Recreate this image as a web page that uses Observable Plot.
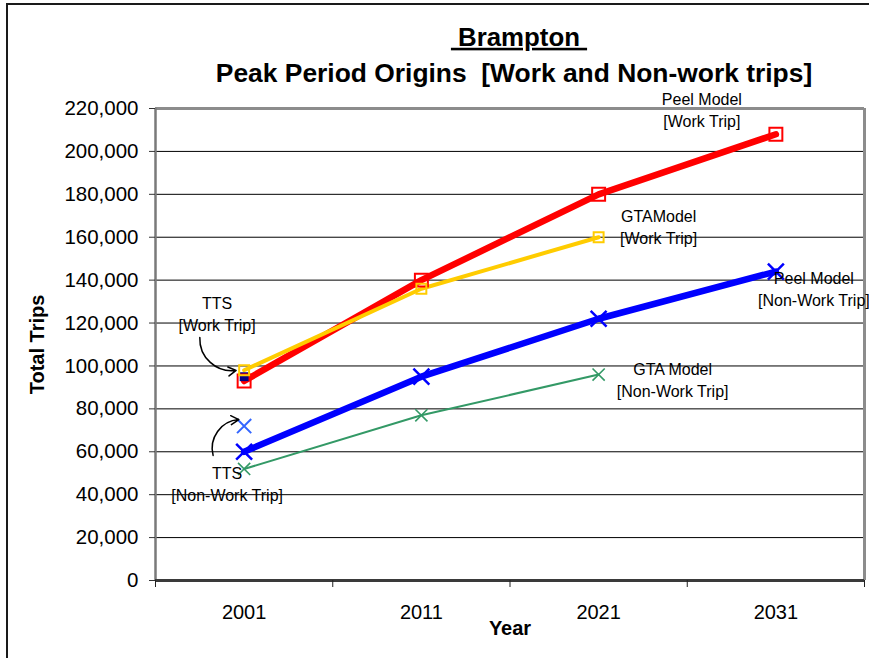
<!DOCTYPE html>
<html>
<head>
<meta charset="utf-8">
<script src="https://cdn.jsdelivr.net/npm/d3@7"></script>
<script src="https://cdn.jsdelivr.net/npm/@observablehq/plot@0.6"></script>
<style>
  html, body { margin: 0; padding: 0; background: #fff; overflow: hidden; }
  #wrap { position: relative; width: 869px; height: 658px; }
  #border { position: absolute; left: 6px; top: 3px; width: 900px; height: 700px;
            border-left: 2px solid #1a1a1a; border-top: 2px solid #1a1a1a; pointer-events: none; }
</style>
</head>
<body>
<div id="wrap"><div id="border"></div></div>
<script>
// Survey / model years
const years = [2001, 2011, 2021, 2031];

// Peak period origins (total trips)
const peelWork    = [93000, 140000, 180000, 208000];
const gtaWork     = [98000, 136000, 160000];
const peelNonWork = [60000, 95000, 122000, 144000];
const gtaNonWork  = [52000, 77000, 96000];
const ttsWork     = [95000];
const ttsNonWork  = [72000];

// Axis ticks
const yTicks = [0, 20000, 40000, 60000, 80000, 100000, 120000, 140000, 160000, 180000, 200000, 220000];
const yearTicks = [2001, 2011, 2021, 2031];
const yearBounds = [1996, 2006, 2016, 2026, 2036];

const rows = (vals) => vals.map((v, i) => ({year: years[i], value: v}));
const peelWorkRows = rows(peelWork);
const gtaWorkRows = rows(gtaWork);
const peelNonWorkRows = rows(peelNonWork);
const gtaNonWorkRows = rows(gtaNonWork);
const ttsWorkRows = rows(ttsWork);
const ttsNonWorkRows = rows(ttsNonWork);

const font = "'Liberation Sans', Arial, Helvetica, sans-serif";
const labelSize = 16;
const labelLH = 1.38;

const chart = Plot.plot({
  width: 869,
  height: 658,
  marginLeft: 155,
  marginRight: 5,
  marginTop: 108,
  marginBottom: 78,
  style: {fontFamily: font, fontSize: "15px", background: "white", color: "black", overflow: "visible"},
  x: {type: "linear", domain: [1996, 2036]},
  y: {domain: [0, 220000]},
  marks: [
    // horizontal gridlines
    Plot.gridY(yTicks.slice(1, -1), {stroke: "black", strokeOpacity: 1, strokeWidth: 1}),
    // plot area border
    Plot.ruleY([220000], {stroke: "#8c8c8c", strokeWidth: 3}),
    Plot.ruleX([2036], {stroke: "#8c8c8c", strokeWidth: 3}),
    Plot.ruleX([1996], {stroke: "#7a7a7a", strokeWidth: 2.5}),
    Plot.ruleY([0], {stroke: "#3a3a3a", strokeWidth: 3}),

    // axes
    Plot.axisY(yTicks, {tickFormat: d3.format(","), tickSize: 6, tickPadding: 11, fontSize: 20.5, label: null, stroke: "#333"}),
    Plot.axisX(yearBounds, {tickFormat: () => "", tickSize: 7, label: null, stroke: "#222"}),
    Plot.axisX(yearTicks, {tickFormat: d => String(d), tickSize: 0, tickPadding: 24, fontSize: 20, label: null}),
    Plot.text(["Total Trips"], {frameAnchor: "left", dx: -118, rotate: -90, textAnchor: "middle", lineAnchor: "middle", fontSize: 20, fontWeight: "bold"}),
    Plot.text(["Year"], {frameAnchor: "bottom", dy: 48, textAnchor: "middle", lineAnchor: "middle", fontSize: 20, fontWeight: "bold"}),

    // titles
    Plot.text(["\u00a0Brampton\u00a0"], {frameAnchor: "top", dx: 9, dy: -71, lineAnchor: "middle", fontSize: 25.8, fontWeight: "bold"}),
    Plot.text(["Peak Period Origins  [Work and Non-work trips]"], {frameAnchor: "top", dx: 4, dy: -35, lineAnchor: "middle", fontSize: 26.4, fontWeight: "bold"}),

    // series lines
    Plot.line(peelWorkRows, {x: "year", y: "value", stroke: "#ff0000", strokeWidth: 6.5}),
    Plot.line(gtaWorkRows, {x: "year", y: "value", stroke: "#ffcc00", strokeWidth: 4}),
    Plot.line(peelNonWorkRows, {x: "year", y: "value", stroke: "#0000ff", strokeWidth: 6.5}),
    Plot.line(gtaNonWorkRows, {x: "year", y: "value", stroke: "#339966", strokeWidth: 2}),

    // TTS survey points
    Plot.dot(ttsWorkRows, {x: "year", y: "value", symbol: "square", r: 5, fill: "#000080", stroke: "none"}),

    // series markers
    Plot.dot(peelWorkRows, {x: "year", y: "value", symbol: "square", r: 7.3, fill: "none", stroke: "#ff0000", strokeWidth: 2}),
    Plot.dot(gtaWorkRows, {x: "year", y: "value", symbol: "square", r: 5.6, fill: "none", stroke: "#ffcc00", strokeWidth: 2}),
    Plot.dot(peelNonWorkRows, {x: "year", y: "value", symbol: "times", r: 7.3, stroke: "#0000ff", strokeWidth: 2.5}),
    Plot.dot(gtaNonWorkRows, {x: "year", y: "value", symbol: "times", r: 5.6, stroke: "#339966", strokeWidth: 1.6}),
    Plot.dot(ttsNonWorkRows, {x: "year", y: "value", symbol: "times", r: 6.5, stroke: "#3366ff", strokeWidth: 2}),

    // callout arrows for the TTS points
    Plot.arrow([{x1: 1998.5, y1: 113300, x2: 2000.55, y2: 97900}],
      {x1: "x1", y1: "y1", x2: "x2", y2: "y2", bend: -50, stroke: "black", strokeWidth: 1.5, headLength: 9}),
    Plot.arrow([{x1: 1999.25, y1: 58300, x2: 2000.7, y2: 75000}],
      {x1: "x1", y1: "y1", x2: "x2", y2: "y2", bend: 50, stroke: "black", strokeWidth: 1.5, headLength: 9}),

    // series labels
    Plot.text([peelWorkRows[3]], {x: "year", y: "value", text: () => "Peel Model\n[Work Trip]", dx: -74, dy: -25, fontSize: labelSize, lineHeight: labelLH}),
    Plot.text([gtaWorkRows[2]], {x: "year", y: "value", text: () => "GTAModel\n[Work Trip]", dx: 60, dy: -11, fontSize: labelSize, lineHeight: labelLH}),
    Plot.text([peelNonWorkRows[3]], {x: "year", y: "value", text: () => "Peel Model\n[Non-Work Trip]", dx: 38, dy: 16, fontSize: labelSize, lineHeight: labelLH}),
    Plot.text([gtaNonWorkRows[2]], {x: "year", y: "value", text: () => "GTA Model\n[Non-Work Trip]", dx: 74, dy: 4.5, fontSize: labelSize, lineHeight: labelLH}),
    Plot.text([ttsWorkRows[0]], {x: "year", y: "value", text: () => "TTS\n[Work Trip]", dx: -27, dy: -64, fontSize: labelSize, lineHeight: labelLH}),
    Plot.text([ttsNonWorkRows[0]], {x: "year", y: "value", text: () => "TTS\n[Non-Work Trip]", dx: -17, dy: 57, fontSize: labelSize, lineHeight: labelLH})
  ]
});

// double underline on the place name
for (const t of chart.querySelectorAll("text")) {
  if (t.textContent.includes("Brampton")) {
    t.style.textDecoration = "underline double";
    t.style.whiteSpace = "pre";
  }
}

document.getElementById("wrap").appendChild(chart);
</script>
</body>
</html>
